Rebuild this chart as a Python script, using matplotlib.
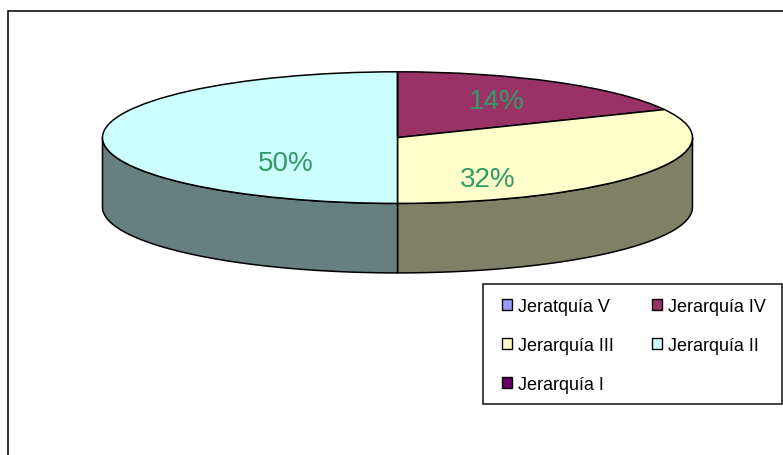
import numpy as np
import matplotlib
matplotlib.use("Agg")
import matplotlib.pyplot as plt
from matplotlib.patches import Patch, Polygon, Rectangle

W, H = 783, 456
plt.rcParams['font.family'] = ['Liberation Sans', 'DejaVu Sans']

categories = ["Jeratquía V", "Jerarquía IV", "Jerarquía III", "Jerarquía II", "Jerarquía I"]
drawn_shares = [0, 18, 32, 50, 0]
colors = ["#9999FF", "#993366", "#FFFFCC", "#CCFFFF", "#660066"]
shown_labels = ["14%", "32%", "50%"]
label_px = [(497, 102.5), (488, 180.5), (286, 164)]
label_color = "#339966"

CX, CY, A, B, DEPTH = 397.5, 138.6, 295, 65.8, 69.5

def fx(x): return x / W
def fy(y): return 1 - y / H
def to_data(px, py): return (px - CX) / A, (CY - py) / B

fig = plt.figure(figsize=(W / 100, H / 100), dpi=100, facecolor="white")

# outer chart frame
fig.add_artist(Rectangle((fx(8), fy(470)), (790 - 8) / W, (470 - 12) / H, transform=fig.transFigure,
                         facecolor="none", edgecolor="#111111", linewidth=1.2))

ax = fig.add_axes([fx(CX - A), fy(CY + B + DEPTH), 2 * A / W, (2 * B + DEPTH) / H])
d = DEPTH / B

# top face of the pie, squashed by the non-equal axes aspect
ax.pie(drawn_shares, colors=colors, startangle=90, counterclock=False, radius=1,
       wedgeprops=dict(edgecolor="black", linewidth=1.1))
ax.set_aspect("auto")
ax.set_xlim(-1, 1)
ax.set_ylim(-1 - d, 1)
ax.set_axis_off()

# side walls
edges = np.cumsum([0] + drawn_shares) / sum(drawn_shares) * 2 * np.pi
for start, end, col in zip(edges[:-1], edges[1:], colors):
    lo, hi = max(start, np.pi / 2), min(end, 3 * np.pi / 2)
    if hi <= lo:
        continue
    t = np.linspace(lo, hi, 120)
    x, y = np.sin(t), np.cos(t)
    verts = np.r_[np.c_[x, y], np.c_[x[::-1], y[::-1] - d]]
    rgb = np.array(matplotlib.colors.to_rgb(col)) * 0.5
    ax.add_patch(Polygon(verts, closed=True, facecolor=rgb, edgecolor="black",
                         linewidth=1.1, zorder=0.5, clip_on=False))

for s, (px, py) in zip(shown_labels, label_px):
    x, y = to_data(px, py)
    ax.text(x, y, s, color=label_color, fontsize=20, ha="center", va="center", zorder=5)

# legend box
fig.add_artist(Rectangle((fx(483), fy(405)), (782 - 483) / W, (405 - 285) / H, transform=fig.transFigure,
                         facecolor="white", edgecolor="#111111", linewidth=1.1))

# legend (filled by column, reads by row)
order = [0, 2, 4, 1, 3]
handles = [Patch(facecolor=colors[i], edgecolor="black", linewidth=1.0, label=categories[i]) for i in order]
leg = fig.legend(handles=handles, ncol=2, loc="upper left",
                 bbox_to_anchor=(fx(502), fy(299)), bbox_transform=fig.transFigure,
                 fontsize=13, frameon=False, borderpad=0, labelspacing=1.21,
                 handlelength=0.56, handleheight=0.56, handletextpad=0.33, columnspacing=2.1,
                 borderaxespad=0)

fig.savefig("out.png", dpi=100, facecolor="white")
